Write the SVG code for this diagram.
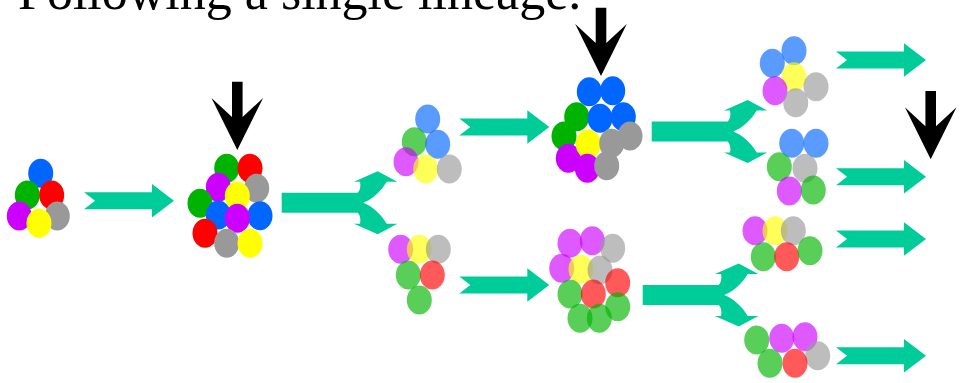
<svg xmlns="http://www.w3.org/2000/svg" width="961" height="383" viewBox="0 0 961 383">
  <style>
    .title { font-family: "Liberation Serif", "Times New Roman", serif; font-size: 52px; fill: #000; }
    .flow { fill: #00cc99; }
    .mark { fill: #000; }
    .cb { fill: #0066ff; }
    .cg { fill: #00b300; }
    .cr { fill: #ff0000; }
    .cp { fill: #cc00ff; }
    .cy { fill: #ffff00; }
    .cs { fill: #999999; }
    .faded ellipse { opacity: 0.65; }
  </style>
  <defs>
    <ellipse id="cell" rx="12.5" ry="14.5"/>
    <!-- straight notched arrow, anchored at tail centre -->
    <path id="chev" d="M0,-8.5 L68,-8.5 L68,-16.7 L90,0 L68,16.7 L68,8.5 L0,8.5 L11,0 Z"/>
    <!-- splitting arrow, anchored at bar start centre -->
    <path id="split" d="M0,-10 L76,-10 C79,-13 79,-18 78.3,-21 L72.3,-21 L96,-31.5 L115.6,-21 L105,-21 C100,-12 90,-3 81.6,0 C90,3 100,12 105,21 L115.6,21 L96,31.5 L72.3,21 L78.3,21 C79,18 79,13 76,10 L0,10 Z"/>
    <!-- downward pointer, anchored at tip -->
    <path id="down" d="M-5.3,-68.3 L-5.3,-33 L-25.8,-52 L0,0 L25.8,-52 L5.3,-33 L5.3,-68.3 Z"/>
  </defs>

  <text class="title" x="18" y="9">Following a single lineage.</text>

  <g id="connectors" class="flow">
    <use href="#chev" x="84" y="200.8"/>
    <use href="#split" x="281.7" y="202.7"/>
    <use href="#chev" x="459.3" y="127"/>
    <use href="#chev" x="459.3" y="285"/>
    <use href="#split" x="651.7" y="131.5"/>
    <use href="#split" x="642.7" y="295"/>
    <use href="#chev" x="836" y="60"/>
    <use href="#chev" x="836" y="176.7"/>
    <use href="#chev" x="836" y="239"/>
    <use href="#chev" x="836" y="355.7"/>
  </g>

  <g id="pointers" class="mark">
    <use href="#down" x="237.3" y="150"/>
    <use href="#down" x="601" y="76"/>
    <use href="#down" x="930.7" y="159.3"/>
  </g>

  <g id="cluster-start">
    <use href="#cell" class="cb" x="40.7" y="173.3"/>
    <use href="#cell" class="cg" x="27.3" y="195"/>
    <use href="#cell" class="cr" x="51.7" y="195"/>
    <use href="#cell" class="cp" x="19.3" y="216"/>
    <use href="#cell" class="cs" x="57.3" y="216"/>
    <use href="#cell" class="cy" x="39" y="223.3"/>
  </g>

  <g id="cluster-twelve">
    <use href="#cell" class="cg" x="226.7" y="168.3"/>
    <use href="#cell" class="cr" x="250" y="168.3"/>
    <use href="#cell" class="cp" x="218.3" y="187.3"/>
    <use href="#cell" class="cs" x="256.7" y="188.3"/>
    <use href="#cell" class="cy" x="237.3" y="196"/>
    <use href="#cell" class="cg" x="200" y="203.3"/>
    <use href="#cell" class="cb" x="260" y="215.7"/>
    <use href="#cell" class="cb" x="218.3" y="215"/>
    <use href="#cell" class="cp" x="237.3" y="218.3"/>
    <use href="#cell" class="cr" x="205" y="233.3"/>
    <use href="#cell" class="cs" x="226.7" y="243.3"/>
    <use href="#cell" class="cy" x="250" y="243.3"/>
  </g>

  <g id="cluster-upper-a" class="faded">
    <ellipse class="cb" cx="427.7" cy="119" rx="12.5" ry="14.5"/>
    <ellipse class="cg" cx="414.3" cy="141.7" rx="12.5" ry="14.5"/>
    <ellipse class="cb" cx="437.7" cy="144.3" rx="12.5" ry="14.5"/>
    <ellipse class="cp" cx="406" cy="161.7" rx="12.5" ry="14.5"/>
    <ellipse class="cy" cx="425.7" cy="169" rx="12.5" ry="14.5"/>
    <ellipse class="cs" cx="449.3" cy="169" rx="12.5" ry="14.5"/>
  </g>

  <g id="cluster-lower-a" class="faded">
    <ellipse class="cp" cx="400.7" cy="249.3" rx="12.5" ry="14.5"/>
    <ellipse class="cy" cx="419.3" cy="249.3" rx="12.5" ry="14.5"/>
    <ellipse class="cs" cx="438.3" cy="249.3" rx="12.5" ry="14.5"/>
    <ellipse class="cg" cx="408.3" cy="275" rx="12.5" ry="14.5"/>
    <ellipse class="cr" cx="432.3" cy="275" rx="12.5" ry="14.5"/>
    <ellipse class="cg" cx="419.3" cy="300" rx="12.5" ry="14.5"/>
  </g>

  <g id="cluster-upper-b">
    <use href="#cell" class="cb" x="589.3" y="91.7"/>
    <use href="#cell" class="cb" x="612.7" y="90.7"/>
    <use href="#cell" class="cb" x="623.3" y="116.7"/>
    <use href="#cell" class="cg" x="576.7" y="116.7"/>
    <use href="#cell" class="cb" x="600" y="118.3"/>
    <use href="#cell" class="cg" x="564" y="136"/>
    <use href="#cell" class="cp" x="568.3" y="158.3"/>
    <use href="#cell" class="cy" x="588.3" y="144"/>
    <use href="#cell" class="cp" x="587.3" y="168.3"/>
    <use href="#cell" class="cs" x="611.7" y="143.3"/>
    <use href="#cell" class="cs" x="630" y="136"/>
    <use href="#cell" class="cs" x="606.7" y="165.7"/>
  </g>

  <g id="cluster-lower-b" class="faded">
    <ellipse class="cp" cx="570" cy="243.3" rx="12.5" ry="14.5"/>
    <ellipse class="cp" cx="592.3" cy="240.7" rx="12.5" ry="14.5"/>
    <ellipse class="cs" cx="612.7" cy="248.3" rx="12.5" ry="14.5"/>
    <ellipse class="cp" cx="561.7" cy="268.3" rx="12.5" ry="14.5"/>
    <ellipse class="cy" cx="581" cy="269.3" rx="12.5" ry="14.5"/>
    <ellipse class="cs" cx="600" cy="270" rx="12.5" ry="14.5"/>
    <ellipse class="cr" cx="617.7" cy="282.7" rx="12.5" ry="14.5"/>
    <ellipse class="cg" cx="570" cy="294" rx="12.5" ry="14.5"/>
    <ellipse class="cr" cx="593.3" cy="294" rx="12.5" ry="14.5"/>
    <ellipse class="cg" cx="617.7" cy="306.7" rx="12.5" ry="14.5"/>
    <ellipse class="cg" cx="580" cy="318.3" rx="12.5" ry="14.5"/>
    <ellipse class="cg" cx="599.3" cy="318.3" rx="12.5" ry="14.5"/>
  </g>

  <g id="cluster-c1" class="faded">
    <ellipse class="cb" cx="772.3" cy="63.3" rx="12.5" ry="14.5"/>
    <ellipse class="cb" cx="794" cy="50.7" rx="12.5" ry="14.5"/>
    <ellipse class="cy" cx="794" cy="76.7" rx="12.5" ry="14.5"/>
    <ellipse class="cp" cx="775" cy="90.7" rx="12.5" ry="14.5"/>
    <ellipse class="cs" cx="816" cy="86.7" rx="12.5" ry="14.5"/>
    <ellipse class="cs" cx="795.7" cy="102.7" rx="12.5" ry="14.5"/>
  </g>

  <g id="cluster-c2" class="faded">
    <ellipse class="cb" cx="791.7" cy="143.3" rx="12.5" ry="14.5"/>
    <ellipse class="cb" cx="816" cy="143.3" rx="12.5" ry="14.5"/>
    <ellipse class="cg" cx="779.3" cy="166.7" rx="12.5" ry="14.5"/>
    <ellipse class="cs" cx="805" cy="168.3" rx="12.5" ry="14.5"/>
    <ellipse class="cp" cx="789.3" cy="191" rx="12.5" ry="14.5"/>
    <ellipse class="cg" cx="813.3" cy="190" rx="12.5" ry="14.5"/>
  </g>

  <g id="cluster-c3" class="faded">
    <ellipse class="cp" cx="755" cy="230.7" rx="12.5" ry="14.5"/>
    <ellipse class="cy" cx="775" cy="230.7" rx="12.5" ry="14.5"/>
    <ellipse class="cs" cx="793.3" cy="230.7" rx="12.5" ry="14.5"/>
    <ellipse class="cg" cx="763.3" cy="256.7" rx="12.5" ry="14.5"/>
    <ellipse class="cr" cx="786.7" cy="256.7" rx="12.5" ry="14.5"/>
    <ellipse class="cg" cx="810" cy="250.7" rx="12.5" ry="14.5"/>
  </g>

  <g id="cluster-c4" class="faded">
    <ellipse class="cg" cx="756.7" cy="340" rx="12.5" ry="14.5"/>
    <ellipse class="cp" cx="781.7" cy="338.3" rx="12.5" ry="14.5"/>
    <ellipse class="cp" cx="805" cy="336.7" rx="12.5" ry="14.5"/>
    <ellipse class="cs" cx="817.7" cy="355.7" rx="12.5" ry="14.5"/>
    <ellipse class="cg" cx="770" cy="363.3" rx="12.5" ry="14.5"/>
    <ellipse class="cr" cx="795" cy="363.3" rx="12.5" ry="14.5"/>
  </g>
</svg>
